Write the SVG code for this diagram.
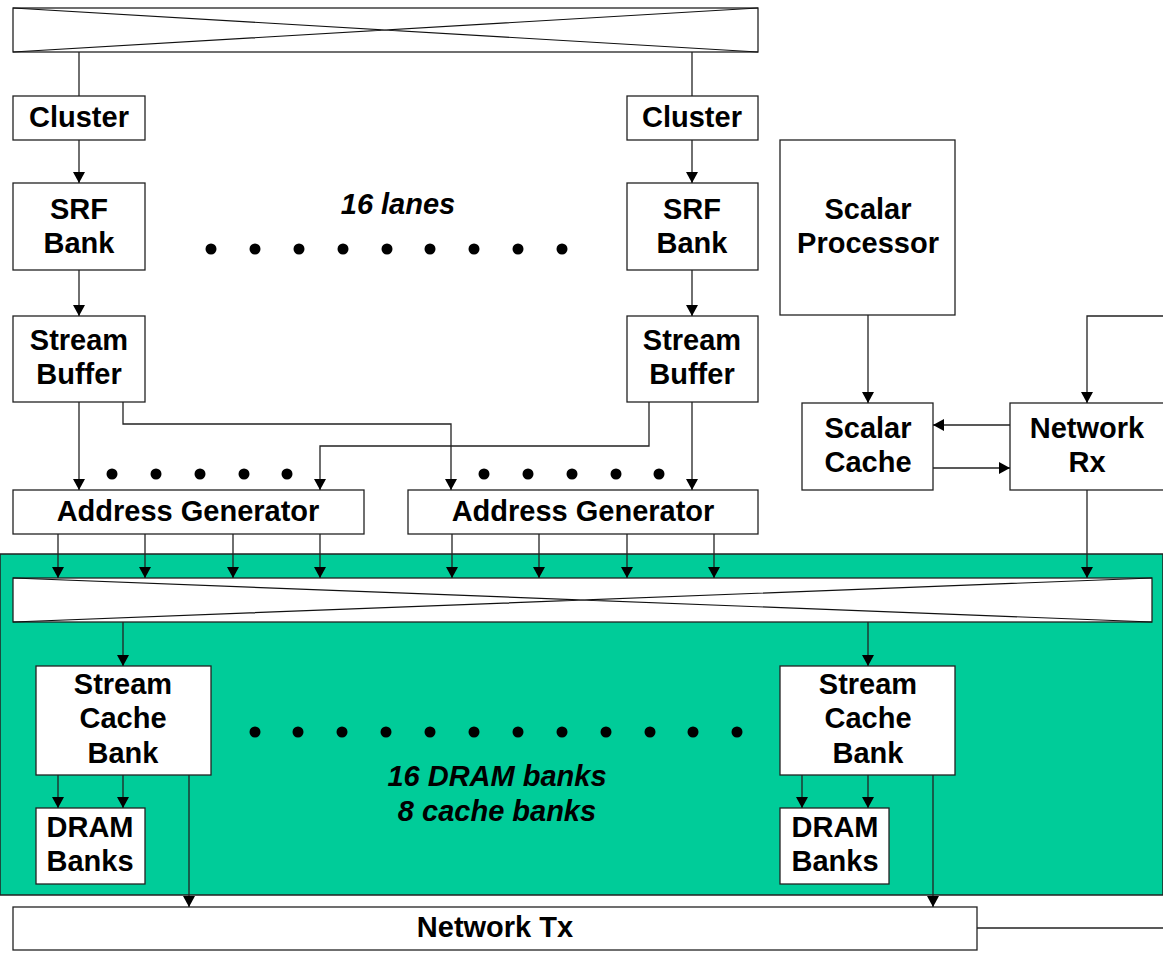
<svg xmlns="http://www.w3.org/2000/svg" width="1163" height="953" viewBox="0 0 1163 953">
<style>
.box{fill:#fff;stroke:#222;stroke-width:1.3}
.t{font-family:"Liberation Sans",Arial,sans-serif;font-weight:bold;font-size:29px;fill:#000;text-anchor:middle}
.ti{font-family:"Liberation Sans",Arial,sans-serif;font-weight:bold;font-style:italic;font-size:29px;fill:#000;text-anchor:middle}
.c{fill:none;stroke:#222;stroke-width:1.3}
.a{fill:none;stroke:#222;stroke-width:1.3;marker-end:url(#ah)}
.x{fill:none;stroke:#111;stroke-width:1.2}
</style>
<defs>
<marker id="ah" markerUnits="userSpaceOnUse" markerWidth="13" markerHeight="13" refX="11" refY="6" orient="auto">
<path d="M0,0 L11,6 L0,12 Z" fill="#000"/>
</marker>
</defs>
<rect width="1163" height="953" fill="#fff"/>
<rect x="0" y="554" width="1163" height="341" fill="#00CC99" stroke="#222" stroke-width="1.5"/>

<g id="crossbar-top">
<rect class="box" x="13" y="8" width="745" height="44"/>
<path class="x" d="M13,8 L758,52 M13,52 L758,8"/>
</g>
<g id="cluster-l"><rect class="box" x="13" y="96" width="132" height="44"/><text class="t" x="79" y="127">Cluster</text></g>
<g id="cluster-r"><rect class="box" x="627" y="96" width="131" height="44"/><text class="t" x="692" y="127">Cluster</text></g>
<g id="srf-l"><rect class="box" x="13" y="183" width="132" height="87"/><text class="t" x="79" y="219">SRF</text><text class="t" x="79" y="253">Bank</text></g>
<g id="srf-r"><rect class="box" x="627" y="183" width="131" height="87"/><text class="t" x="692" y="219">SRF</text><text class="t" x="692" y="253">Bank</text></g>
<g id="sb-l"><rect class="box" x="13" y="316" width="132" height="86"/><text class="t" x="79" y="350">Stream</text><text class="t" x="79" y="384">Buffer</text></g>
<g id="sb-r"><rect class="box" x="627" y="316" width="131" height="86"/><text class="t" x="692" y="350">Stream</text><text class="t" x="692" y="384">Buffer</text></g>
<g id="scalar-proc"><rect class="box" x="780" y="140" width="175" height="175"/><text class="t" x="868" y="219">Scalar</text><text class="t" x="868" y="253">Processor</text></g>
<g id="scalar-cache"><rect class="box" x="802" y="403" width="131" height="87"/><text class="t" x="868" y="438">Scalar</text><text class="t" x="868" y="472">Cache</text></g>
<g id="net-rx"><rect class="box" x="1010" y="403" width="160" height="87"/><text class="t" x="1087" y="438">Network</text><text class="t" x="1087" y="472">Rx</text></g>
<g id="ag-l"><rect class="box" x="13" y="490" width="351" height="44"/><text class="t" x="188" y="521">Address Generator</text></g>
<g id="ag-r"><rect class="box" x="408" y="490" width="350" height="44"/><text class="t" x="583" y="521">Address Generator</text></g>
<g id="crossbar-bottom">
<rect class="box" x="13" y="578" width="1139" height="44"/>
<path class="x" d="M13,578 L1152,622 M13,622 L1152,578"/>
</g>
<g id="scb-l"><rect class="box" x="36" y="666" width="175" height="109"/><text class="t" x="123" y="694">Stream</text><text class="t" x="123" y="728">Cache</text><text class="t" x="123" y="763">Bank</text></g>
<g id="scb-r"><rect class="box" x="780" y="666" width="175" height="109"/><text class="t" x="868" y="694">Stream</text><text class="t" x="868" y="728">Cache</text><text class="t" x="868" y="763">Bank</text></g>
<g id="dram-l"><rect class="box" x="36" y="808" width="109" height="76"/><text class="t" x="90" y="837">DRAM</text><text class="t" x="90" y="871">Banks</text></g>
<g id="dram-r"><rect class="box" x="780" y="808" width="109" height="76"/><text class="t" x="835" y="837">DRAM</text><text class="t" x="835" y="871">Banks</text></g>
<g id="net-tx"><rect class="box" x="13" y="907" width="964" height="43"/><text class="t" x="495" y="937">Network Tx</text></g>

<g id="labels">
<text class="ti" x="398" y="214">16 lanes</text>
<text class="ti" x="497" y="786">16 DRAM banks</text>
<text class="ti" x="497" y="821">8 cache banks</text>
</g>

<g id="dots" fill="#000">
<circle cx="211" cy="249" r="5.5"/><circle cx="255" cy="249" r="5.5"/><circle cx="299" cy="249" r="5.5"/><circle cx="343" cy="249" r="5.5"/><circle cx="387" cy="249" r="5.5"/><circle cx="430" cy="249" r="5.5"/><circle cx="474" cy="249" r="5.5"/><circle cx="518" cy="249" r="5.5"/><circle cx="562" cy="249" r="5.5"/>
<circle cx="112" cy="474" r="5.5"/><circle cx="156" cy="474" r="5.5"/><circle cx="200" cy="474" r="5.5"/><circle cx="244" cy="474" r="5.5"/><circle cx="287" cy="474" r="5.5"/>
<circle cx="484" cy="474" r="5.5"/><circle cx="528" cy="474" r="5.5"/><circle cx="572" cy="474" r="5.5"/><circle cx="616" cy="474" r="5.5"/><circle cx="659" cy="474" r="5.5"/>
<circle cx="255" cy="732" r="5.5"/><circle cx="298" cy="732" r="5.5"/><circle cx="342" cy="732" r="5.5"/><circle cx="386" cy="732" r="5.5"/><circle cx="430" cy="732" r="5.5"/><circle cx="474" cy="732" r="5.5"/><circle cx="518" cy="732" r="5.5"/><circle cx="562" cy="732" r="5.5"/><circle cx="606" cy="732" r="5.5"/><circle cx="650" cy="732" r="5.5"/><circle cx="693" cy="732" r="5.5"/><circle cx="737" cy="732" r="5.5"/>
</g>

<g id="connectors">
<path class="c" d="M79,52 V96"/>
<path class="c" d="M692,52 V96"/>
<path class="a" d="M79,140 V183"/>
<path class="a" d="M692,140 V183"/>
<path class="a" d="M79,270 V316"/>
<path class="a" d="M692,270 V316"/>
<path class="a" d="M79,402 V490"/>
<path class="a" d="M692,402 V490"/>
<path class="a" d="M123,402 V424 H451 V490"/>
<path class="a" d="M649,402 V446 H320 V490"/>
<path class="a" d="M868,315 V403"/>
<path class="a" d="M1163,316 H1087 V403"/>
<path class="a" d="M1010,425 H933"/>
<path class="a" d="M933,468 H1010"/>
<path class="a" d="M1087,490 V578"/>
<path class="a" d="M58,534 V578"/>
<path class="a" d="M145,534 V578"/>
<path class="a" d="M233,534 V578"/>
<path class="a" d="M320,534 V578"/>
<path class="a" d="M452,534 V578"/>
<path class="a" d="M539,534 V578"/>
<path class="a" d="M627,534 V578"/>
<path class="a" d="M714,534 V578"/>
<path class="a" d="M123,622 V666"/>
<path class="a" d="M868,622 V666"/>
<path class="a" d="M58,775 V808"/>
<path class="a" d="M123,775 V808"/>
<path class="a" d="M802,775 V808"/>
<path class="a" d="M868,775 V808"/>
<path class="a" d="M189,775 V907"/>
<path class="a" d="M933,775 V907"/>
<path class="c" d="M977,928 H1163"/>
</g>
</svg>
